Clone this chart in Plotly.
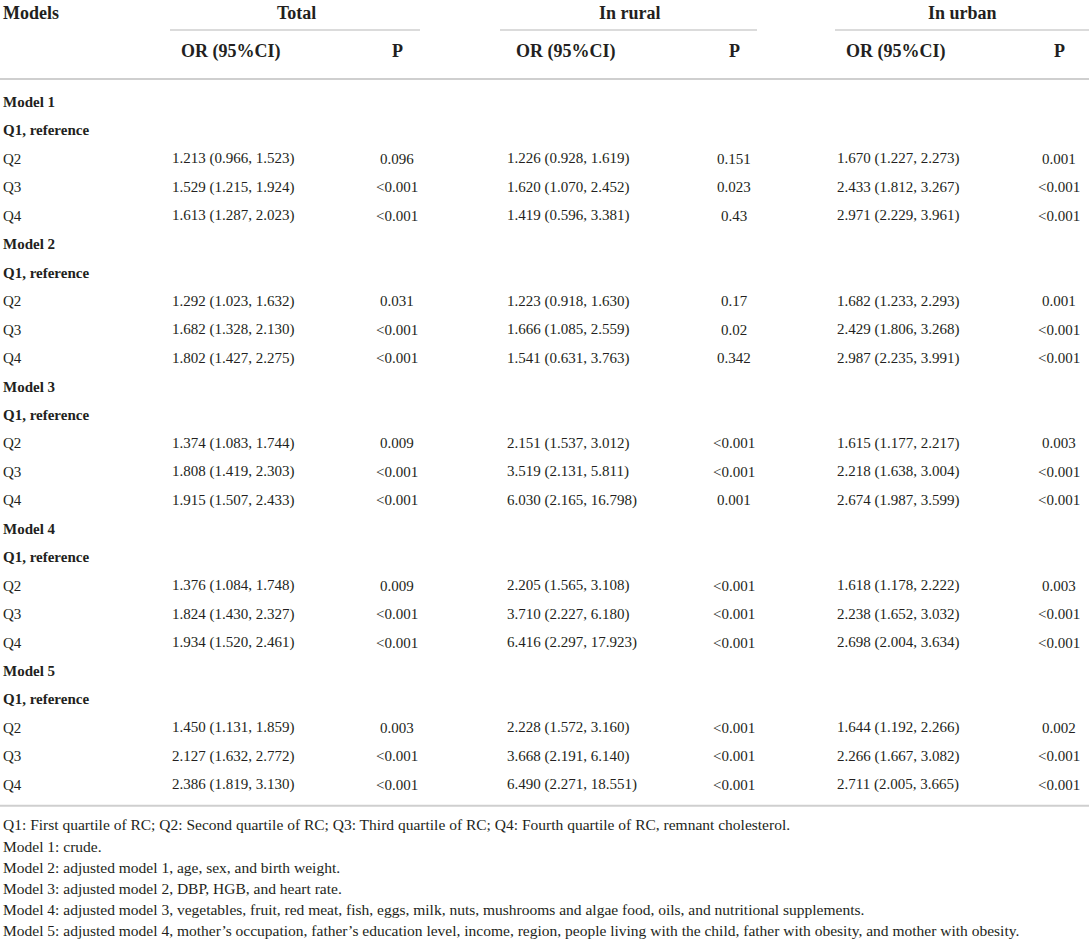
import plotly.graph_objects as go

# table content
models = ["Model 1", "Model 2", "Model 3", "Model 4", "Model 5"]
quartiles = ["Q2", "Q3", "Q4"]
groups = ["Total", "In rural", "In urban"]

total_or = ["1.213 (0.966, 1.523)", "1.529 (1.215, 1.924)", "1.613 (1.287, 2.023)",
            "1.292 (1.023, 1.632)", "1.682 (1.328, 2.130)", "1.802 (1.427, 2.275)",
            "1.374 (1.083, 1.744)", "1.808 (1.419, 2.303)", "1.915 (1.507, 2.433)",
            "1.376 (1.084, 1.748)", "1.824 (1.430, 2.327)", "1.934 (1.520, 2.461)",
            "1.450 (1.131, 1.859)", "2.127 (1.632, 2.772)", "2.386 (1.819, 3.130)"]
total_p = ["0.096", "<0.001", "<0.001",
           "0.031", "<0.001", "<0.001",
           "0.009", "<0.001", "<0.001",
           "0.009", "<0.001", "<0.001",
           "0.003", "<0.001", "<0.001"]
rural_or = ["1.226 (0.928, 1.619)", "1.620 (1.070, 2.452)", "1.419 (0.596, 3.381)",
            "1.223 (0.918, 1.630)", "1.666 (1.085, 2.559)", "1.541 (0.631, 3.763)",
            "2.151 (1.537, 3.012)", "3.519 (2.131, 5.811)", "6.030 (2.165, 16.798)",
            "2.205 (1.565, 3.108)", "3.710 (2.227, 6.180)", "6.416 (2.297, 17.923)",
            "2.228 (1.572, 3.160)", "3.668 (2.191, 6.140)", "6.490 (2.271, 18.551)"]
rural_p = ["0.151", "0.023", "0.43",
           "0.17", "0.02", "0.342",
           "<0.001", "<0.001", "0.001",
           "<0.001", "<0.001", "<0.001",
           "<0.001", "<0.001", "<0.001"]
urban_or = ["1.670 (1.227, 2.273)", "2.433 (1.812, 3.267)", "2.971 (2.229, 3.961)",
            "1.682 (1.233, 2.293)", "2.429 (1.806, 3.268)", "2.987 (2.235, 3.991)",
            "1.615 (1.177, 2.217)", "2.218 (1.638, 3.004)", "2.674 (1.987, 3.599)",
            "1.618 (1.178, 2.222)", "2.238 (1.652, 3.032)", "2.698 (2.004, 3.634)",
            "1.644 (1.192, 2.266)", "2.266 (1.667, 3.082)", "2.711 (2.005, 3.665)"]
urban_p = ["0.001", "<0.001", "<0.001",
           "0.001", "<0.001", "<0.001",
           "0.003", "<0.001", "<0.001",
           "0.003", "<0.001", "<0.001",
           "0.002", "<0.001", "<0.001"]

footnotes = [
    "Q1: First quartile of RC; Q2: Second quartile of RC; Q3: Third quartile of RC; Q4: Fourth quartile of RC, remnant cholesterol.",
    "Model 1: crude.",
    "Model 2: adjusted model 1, age, sex, and birth weight.",
    "Model 3: adjusted model 2, DBP, HGB, and heart rate.",
    "Model 4: adjusted model 3, vegetables, fruit, red meat, fish, eggs, milk, nuts, mushrooms and algae food, oils, and nutritional supplements.",
    "Model 5: adjusted model 4, mother\u2019s occupation, father\u2019s education level, income, region, people living with the child, father with obesity, and mother with obesity.",
]

W, H = 1089, 942
FONT = "Liberation Serif"
INK = "#231f20"
RULE = "#cfcfcf"

# column geometry (pixels)
val_x = [170, 505, 835]          # left edge of OR values
rule_x = [(170, 420), (500, 757), (835, 1089)]
title_x = [296, 630, 962]
p_x = [397, 734, 1059]

fig = go.Figure()
ann = []


def txt(x, y, s, bold=False, anchor="left", size=15):
    if bold:
        s = "<b>" + s + "</b>"
    ann.append(dict(x=x, y=y, xref="x", yref="y", text=s, showarrow=False,
                    xanchor=anchor, yanchor="middle",
                    font=dict(family=FONT, size=size, color=INK)))


# header
txt(1, 13, "Models", bold=True, size=18)
for i, g in enumerate(groups):
    txt(title_x[i], 13, g, bold=True, anchor="center", size=18)
    txt(val_x[i] + 9, 51, "OR (95%CI)", bold=True, size=18)
    txt(p_x[i], 51, "P", bold=True, anchor="center", size=18)
    fig.add_shape(type="line", x0=rule_x[i][0], x1=rule_x[i][1], y0=30, y1=30,
                  line=dict(color=RULE, width=1.5))
fig.add_shape(type="line", x0=0, x1=W, y0=79, y1=79, line=dict(color=RULE, width=2))

# body: 25 rows at a fixed pitch
ors = [total_or, rural_or, urban_or]
ps = [total_p, rural_p, urban_p]
top, pitch = 102, 28.45
r = 0
for m, name in enumerate(models):
    txt(1, top + r * pitch, name, bold=True)
    r += 1
    txt(1, top + r * pitch, "Q1, reference", bold=True)
    r += 1
    for q, qn in enumerate(quartiles):
        y = top + r * pitch
        k = m * 3 + q
        txt(1, y, qn)
        for i in range(3):
            txt(val_x[i], y, ors[i][k])
            txt(p_x[i], y, ps[i][k], anchor="center")
        r += 1

bottom = top + (r - 1) * pitch + 21
fig.add_shape(type="line", x0=0, x1=W, y0=bottom, y1=bottom, line=dict(color=RULE, width=2))

for j, f in enumerate(footnotes):
    txt(1, bottom + 19 + j * 21.2, f, size=15.5)

fig.update_layout(
    width=W, height=H,
    margin=dict(l=0, r=0, t=0, b=0),
    paper_bgcolor="white", plot_bgcolor="white",
    xaxis=dict(range=[0, W], visible=False, fixedrange=True),
    yaxis=dict(range=[H, 0], visible=False, fixedrange=True),
    annotations=ann,
    showlegend=False,
)

# page body has an 8px default margin; drop it so the table sits at the window edge
fig.write_html("out.html", config={"displayModeBar": False},
               post_script="document.body.style.margin='0px';")
